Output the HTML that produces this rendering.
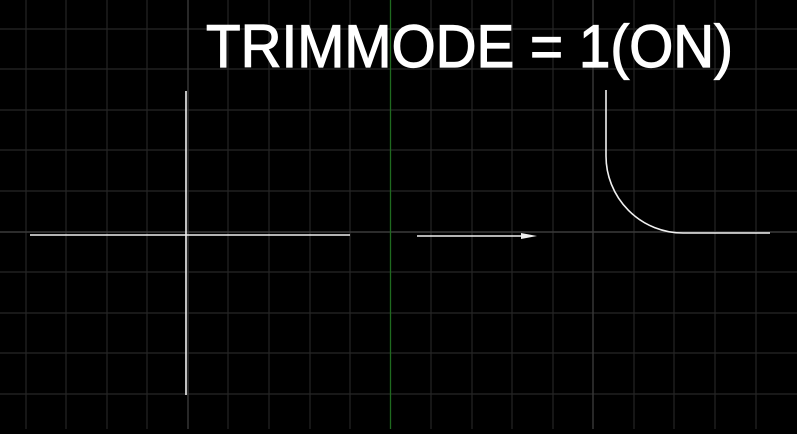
<!DOCTYPE html>
<html><head><style>html,body{margin:0;padding:0;background:#000;overflow:hidden}</style></head>
<body>
<svg width="797" height="429" viewBox="0 0 797 429" xmlns="http://www.w3.org/2000/svg">
<rect width="797" height="429" fill="#000"/>
<g stroke="#262626" stroke-width="1.2">
<line x1="26" y1="0" x2="26" y2="429"/>
<line x1="66" y1="0" x2="66" y2="429"/>
<line x1="107" y1="0" x2="107" y2="429"/>
<line x1="147" y1="0" x2="147" y2="429"/>
<line x1="228" y1="0" x2="228" y2="429"/>
<line x1="269" y1="0" x2="269" y2="429"/>
<line x1="310" y1="0" x2="310" y2="429"/>
<line x1="350" y1="0" x2="350" y2="429"/>
<line x1="431" y1="0" x2="431" y2="429"/>
<line x1="472" y1="0" x2="472" y2="429"/>
<line x1="512" y1="0" x2="512" y2="429"/>
<line x1="553" y1="0" x2="553" y2="429"/>
<line x1="634" y1="0" x2="634" y2="429"/>
<line x1="674" y1="0" x2="674" y2="429"/>
<line x1="715" y1="0" x2="715" y2="429"/>
<line x1="756" y1="0" x2="756" y2="429"/>
<line x1="0" y1="29" x2="797" y2="29"/>
<line x1="0" y1="69" x2="797" y2="69"/>
<line x1="0" y1="110" x2="797" y2="110"/>
<line x1="0" y1="150" x2="797" y2="150"/>
<line x1="0" y1="191" x2="797" y2="191"/>
<line x1="0" y1="272" x2="797" y2="272"/>
<line x1="0" y1="313" x2="797" y2="313"/>
<line x1="0" y1="353" x2="797" y2="353"/>
<line x1="0" y1="394" x2="797" y2="394"/>
</g>
<g stroke="#3a3a3a" stroke-width="1.4">
<line x1="188" y1="0" x2="188" y2="429"/>
<line x1="593" y1="0" x2="593" y2="429"/>
<line x1="0" y1="232" x2="797" y2="232"/>
</g>
<text x="206" y="67" font-family="Liberation Sans, sans-serif" font-size="60" fill="#fff" stroke="#fff" stroke-width="1.2" textLength="527" lengthAdjust="spacingAndGlyphs">TRIMMODE = 1(ON)</text>
<line x1="390.5" y1="0" x2="390.5" y2="429" stroke="#1f6a1f" stroke-width="1.3"/>
<g stroke="#f0f0f0" stroke-width="1.6" fill="none">
<line x1="30" y1="235" x2="350" y2="235"/>
<line x1="186" y1="91" x2="186" y2="395"/>
<line x1="417" y1="236" x2="525" y2="236"/>
<path d="M606 90 L606 156 A77 77 0 0 0 683 233 L770 233"/>
</g>
<polygon points="521,233 537,236 521,239" fill="#f0f0f0"/>
</svg>
</body></html>
